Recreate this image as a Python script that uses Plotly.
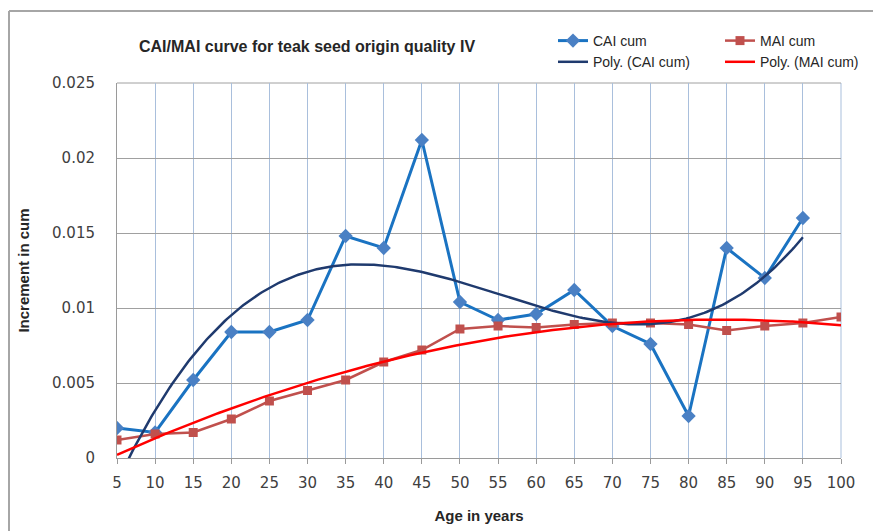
import numpy as np
import plotly.graph_objects as go

ages = [5, 10, 15, 20, 25, 30, 35, 40, 45, 50, 55, 60, 65, 70, 75, 80, 85, 90, 95, 100]
cai_ages = ages[:19]
cai_cum = [0.0020, 0.0017, 0.0052, 0.0084, 0.0084, 0.0092, 0.0148, 0.0140, 0.0212, 0.0104,
           0.0092, 0.0096, 0.0112, 0.0088, 0.0076, 0.0028, 0.0140, 0.0120, 0.0160]
mai_cum = [0.0012, 0.0016, 0.0017, 0.0026, 0.0038, 0.0045, 0.0052, 0.0064, 0.0072, 0.0086,
           0.0088, 0.0087, 0.0089, 0.0090, 0.0090, 0.0089, 0.0085, 0.0088, 0.0090, 0.0094]
y_ticks = [0, 0.005, 0.01, 0.015, 0.02, 0.025]
y_tick_text = ["0", "0.005", "0.01", "0.015", "0.02", "0.025"]

# Polynomial trendlines (least-squares fits like Excel's "Poly." trendline)
cai_fit = np.poly1d(np.polyfit(cai_ages, cai_cum, 3))
mai_fit = np.poly1d(np.polyfit(ages, mai_cum, 2))
xc = np.linspace(cai_ages[0], cai_ages[-1], 300)
xm = np.linspace(ages[0], ages[-1], 300)

narrow = "Liberation Sans Narrow, Liberation Sans, Arial"
tickfont = "DejaVu Sans, Liberation Sans"

W, H = 873, 523
L, T, PW, PH = 109, 75, 724, 375

fig = go.Figure()
fig.add_trace(go.Scatter(x=cai_ages, y=cai_cum, name="CAI cum", mode="lines+markers",
                         line=dict(color="#1a73c2", width=3),
                         marker=dict(symbol="diamond", size=11, color="#4a80c4"),
                         legend="legend"))
fig.add_trace(go.Scatter(x=ages, y=mai_cum, name="MAI cum", mode="lines+markers",
                         line=dict(color="#c0504d", width=2.5),
                         marker=dict(symbol="square", size=9, color="#c0504d"),
                         legend="legend2"))
fig.add_trace(go.Scatter(x=xc, y=cai_fit(xc), name="Poly. (CAI cum)", mode="lines",
                         line=dict(color="#1f3a6e", width=2.5), legend="legend"))
fig.add_trace(go.Scatter(x=xm, y=mai_fit(xm), name="Poly. (MAI cum)", mode="lines",
                         line=dict(color="#ff0000", width=2.5), legend="legend2"))

leg_common = dict(orientation="v", xref="container", yref="container",
                  xanchor="left", yanchor="top", bgcolor="rgba(0,0,0,0)",
                  font=dict(size=14, family=narrow, color="#262626"), tracegroupgap=0)

fig.update_layout(
    width=W, height=H,
    margin=dict(l=L, r=W - L - PW, t=T, b=H - T - PH, autoexpand=False),
    paper_bgcolor="white", plot_bgcolor="white",
    font=dict(family=narrow, size=13, color="#262626"),
    showlegend=True,
    legend=dict(x=545 / W, y=1 - 17 / H, **leg_common),
    legend2=dict(x=712 / W, y=1 - 17 / H, **leg_common),
    annotations=[
        dict(text="<b>CAI/MAI curve for teak seed origin quality IV</b>", x=(299 - L) / PW,
             y=(T + PH - 39) / PH, xref="paper", yref="paper", showarrow=False,
             font=dict(size=16, family=narrow, color="#262626"), xanchor="center", yanchor="middle"),
    ],
    shapes=[
        dict(type="line", xref="paper", yref="paper", x0=(1 - L) / PW, x1=(1 - L) / PW,
             y0=(T + PH - 3) / PH, y1=-0.4, line=dict(color="#a6a6a6", width=2)),
        dict(type="line", xref="paper", yref="paper", x0=(1 - L) / PW, x1=1.2,
             y0=(T + PH - 3) / PH, y1=(T + PH - 3) / PH, line=dict(color="#a6a6a6", width=2)),
    ],
)
fig.update_xaxes(range=[5, 100], tickvals=ages, ticktext=[str(a) for a in ages],
                 showgrid=True, gridcolor="#a9bfdc", gridwidth=1,
                 showline=True, linecolor="#9a9a9a", linewidth=1, tickangle=0,
                 ticks="outside", ticklen=5, tickcolor="#9a9a9a", ticklabelstandoff=6,
                 tickfont=dict(size=15, family=tickfont, color="#404040"), zeroline=False,
                 title=dict(text="<b>Age in years</b>", font=dict(size=15, family=narrow, color="#262626"),
                            standoff=19))
fig.update_yaxes(range=[0, 0.025], tickvals=y_ticks, ticktext=y_tick_text,
                 showgrid=True, gridcolor="#a0a0a0", gridwidth=1,
                 showline=True, linecolor="#9a9a9a", linewidth=1,
                 ticks="", ticklabelstandoff=18,
                 tickfont=dict(size=15, family=tickfont, color="#404040"), zeroline=False,
                 title=dict(text="<b>Increment in cum</b>", font=dict(size=15, family=narrow, color="#262626"),
                            standoff=18))
fig.add_shape(type="line", xref="paper", yref="paper", x0=1, x1=1, y0=0, y1=1,
              line=dict(color="#a9bfdc", width=1), layer="below")
fig.add_shape(type="line", xref="paper", yref="paper", x0=0, x1=1, y0=1, y1=1,
              line=dict(color="#a0a0a0", width=1), layer="below")

fig.write_html("out.html")
